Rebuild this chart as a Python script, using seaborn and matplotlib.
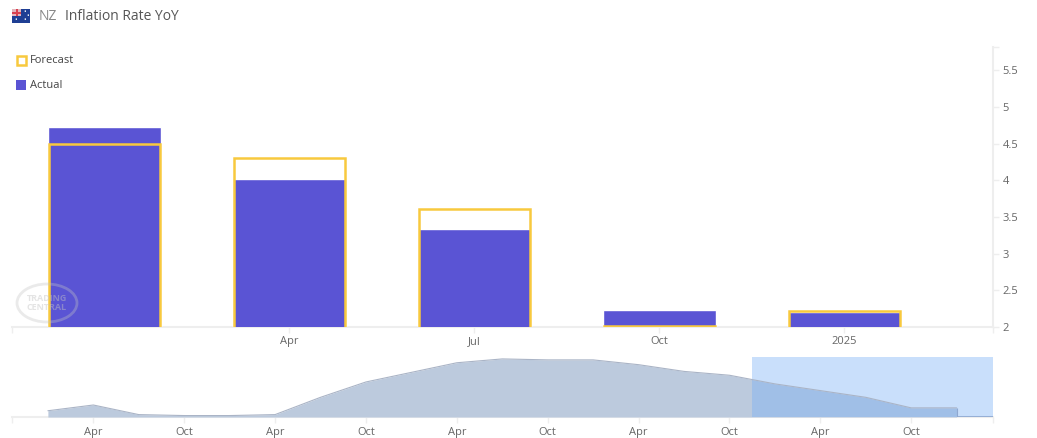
import pandas as pd
import seaborn as sns
import matplotlib.pyplot as plt
from matplotlib.patches import Rectangle, Ellipse

# main chart
quarters = ["Jan", "Apr", "Jul", "Oct", "2025"]
actual = [4.72, 4.02, 3.33, 2.23, 2.2]
forecast = [4.5, 4.3, 3.61, 2.02, 2.22]
value_ticks = [2, 2.5, 3, 3.5, 4, 4.5, 5, 5.5]
value_labels = ["2", "2.5", "3", "3.5", "4", "4.5", "5", "5.5"]

# navigator, one value per quarter from Jan 2020
history = [1.9, 2.5, 1.5, 1.4, 1.4, 1.5, 3.3, 4.9, 5.9, 6.9, 7.3, 7.2,
           7.2, 6.7, 6.0, 5.6, 4.7, 4.0, 3.3, 2.2, 2.2]
history_ticks = [1, 3, 5, 7, 9, 11, 13, 15, 17, 19]
history_labels = ["Apr", "Oct", "Apr", "Oct", "Apr", "Oct", "Apr", "Oct", "Apr", "Oct"]

W, H = 1037, 438
AXIS = "#eeeeee"
TEXT = "#666666"


def px_rect(left, top, right, bottom):
    """axes rectangle from pixel edges, y measured from the top"""
    return [left / W, 1 - bottom / H, (right - left) / W, (bottom - top) / H]


def style_axis(ax, pad):
    for side in ["left", "top", "right", "bottom"]:
        ax.spines[side].set_visible(False)
    ax.spines["bottom"].set_visible(True)
    ax.spines["bottom"].set_color(AXIS)
    ax.spines["bottom"].set_linewidth(1.5)
    ax.spines["bottom"].set_zorder(0.5)
    ax.set_xlabel("")
    ax.set_ylabel("")
    ax.set_facecolor("none")
    ax.tick_params(axis="x", which="both", bottom=True, length=4, width=1, color=AXIS,
                   labelcolor=TEXT, labelsize=8, pad=pad)


def draw_main(fig):
    ax = fig.add_axes(px_rect(12, 47, 993, 327))
    df = pd.DataFrame({"quarter": quarters, "actual": actual, "forecast": forecast})
    sns.barplot(data=df, x="quarter", y="actual", color="#5a54d4", saturation=1,
                width=0.61, ax=ax)
    sns.barplot(data=df, x="quarter", y="forecast", fill=False, color="#f8c93e",
                saturation=1, width=0.6, linewidth=1.8, ax=ax)
    ax.set_xlim(-0.5, 4.803)
    ax.set_ylim(2, 5.815)
    style_axis(ax, 2.5)
    ax.set_xticks([1, 2, 3, 4])
    ax.set_xticklabels(quarters[1:])
    ax.set_xticks([-0.5, 4.803], minor=True)
    ax.yaxis.tick_right()
    ax.spines["right"].set_visible(True)
    ax.spines["right"].set_color(AXIS)
    ax.spines["right"].set_linewidth(1.5)
    ax.spines["right"].set_bounds(2, 5.815)
    ax.set_yticks(value_ticks)
    ax.set_yticklabels(value_labels)
    ax.set_yticks([5.815], minor=True)
    ax.tick_params(axis="y", which="both", right=True, length=4.5, width=1, color=AXIS,
                   labelcolor=TEXT, labelsize=8, pad=2.5)
    return ax


def draw_navigator(fig):
    ax = fig.add_axes(px_rect(12, 357, 993, 417))
    df = pd.DataFrame({"quarter": range(len(history)), "value": history})
    floor = 1.25
    ax.fill_between(df["quarter"], df["value"], floor, color="#bccadd", lw=0)
    sns.lineplot(data=df, x="quarter", y="value", color="#aab4c6", linewidth=0.8, ax=ax)
    last = len(history) - 1
    ax.vlines(last, floor, history[-1], color="#8fa8d0", linewidth=0.8)
    ax.hlines(floor + 0.05, last, 20.8, color="#8fa8d0", linewidth=1.2)
    ax.axvspan(15.49, 20.8, color="#78aff7", alpha=0.4, lw=0)
    ax.set_xlim(-0.79, 20.8)
    ax.set_ylim(floor, 7.5)
    style_axis(ax, 3.5)
    ax.set_yticks([])
    ax.set_xticks(history_ticks)
    ax.set_xticklabels(history_labels)
    ax.set_xticks([-0.79, 20.8], minor=True)
    return ax


def draw_header(fig):
    # flag
    fig.add_artist(Rectangle((12 / W, 1 - 23 / H), 18 / W, 14 / H, color="#1f3f94",
                             transform=fig.transFigure, lw=0))
    fig.add_artist(Rectangle((12 / W, 1 - 16 / H), 9 / W, 7 / H, color="#e3b5bc",
                             transform=fig.transFigure, lw=0))
    fig.add_artist(Rectangle((15.5 / W, 1 - 16 / H), 2 / W, 7 / H, color="#d8414f",
                             transform=fig.transFigure, lw=0))
    fig.add_artist(Rectangle((12 / W, 1 - 13.5 / H), 9 / W, 2 / H, color="#d8414f",
                             transform=fig.transFigure, lw=0))
    for sx, sy in [(25, 12), (28, 16), (25, 20), (16, 20)]:
        fig.text(sx / W, 1 - sy / H, "\u2022", color="white", fontsize=5,
                 ha="center", va="center")
    fig.text(39 / W, 1 - 16 / H, "NZ", color="#888888", fontsize=10, va="center")
    fig.text(65 / W, 1 - 16 / H, "Inflation Rate YoY", color="#555555", fontsize=10,
             va="center")

    # legend
    fig.add_artist(Rectangle((17 / W, 1 - 64.5 / H), 9 / W, 9 / H, facecolor="white",
                             edgecolor="#f8c93e", linewidth=1.8,
                             transform=fig.transFigure))
    fig.add_artist(Rectangle((16 / W, 1 - 90 / H), 10 / W, 10 / H, color="#5a54d4",
                             transform=fig.transFigure, lw=0))
    fig.text(30 / W, 1 - 60.5 / H, "Forecast", color="#444444", fontsize=8, va="center")
    fig.text(30 / W, 1 - 85.5 / H, "Actual", color="#444444", fontsize=8, va="center")


def draw_watermark(fig):
    # drawn over the bars, faint enough to stay a watermark
    ax = fig.add_axes([0, 0, 1, 1], zorder=5)
    ax.set_xlim(0, W)
    ax.set_ylim(H, 0)
    ax.axis("off")
    ax.add_patch(Ellipse((47, 303), 60, 38, facecolor="none", edgecolor="#c4c4c4",
                         linewidth=2, alpha=0.35))
    ax.text(47, 303, "TRADING\nCENTRAL", color="#c4c4c4", alpha=0.45, fontsize=6.5,
            fontweight="bold", ha="center", va="center", linespacing=1.0)


def main():
    sns.set_style("white")
    plt.rcParams["font.family"] = ["Open Sans", "DejaVu Sans"]
    fig = plt.figure(figsize=(W / 100, H / 100), dpi=100)
    draw_main(fig)
    draw_navigator(fig)
    draw_header(fig)
    draw_watermark(fig)
    fig.savefig("out.png", dpi=100)


if __name__ == '__main__':
    main()
